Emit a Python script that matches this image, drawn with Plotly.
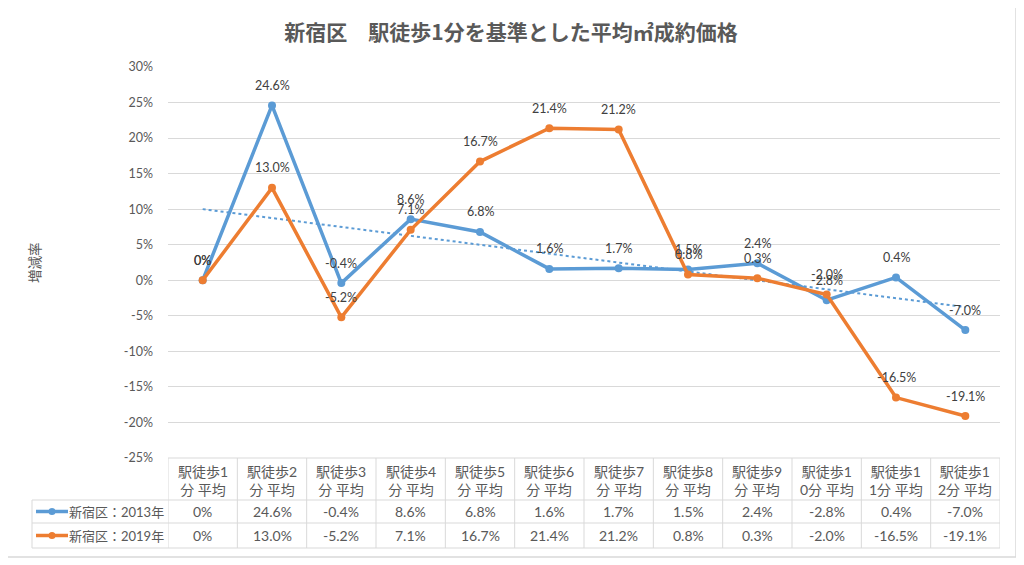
import numpy as np
import plotly.graph_objects as go

# ---------------- data ----------------
categories = ["駅徒歩1<br>分 平均", "駅徒歩2<br>分 平均", "駅徒歩3<br>分 平均", "駅徒歩4<br>分 平均",
              "駅徒歩5<br>分 平均", "駅徒歩6<br>分 平均", "駅徒歩7<br>分 平均", "駅徒歩8<br>分 平均",
              "駅徒歩9<br>分 平均", "駅徒歩1<br>0分 平均", "駅徒歩1<br>1分 平均", "駅徒歩1<br>2分 平均"]
series_names = ["新宿区：2013年", "新宿区：2019年"]
values_2013 = [0, 24.6, -0.4, 8.6, 6.8, 1.6, 1.7, 1.5, 2.4, -2.8, 0.4, -7.0]
values_2019 = [0, 13.0, -5.2, 7.1, 16.7, 21.4, 21.2, 0.8, 0.3, -2.0, -16.5, -19.1]
y_ticks = [-25, -20, -15, -10, -5, 0, 5, 10, 15, 20, 25, 30]
title_text = "新宿区　駅徒歩1分を基準とした平均㎡成約価格"
y_title = "増減率"

colors = ["#5B9BD5", "#ED7D31"]
OFF = 8  # page body margin
W, H = 1024 - OFF, 565 - OFF
L, T = 168 - OFF, 67 - OFF
R = W - (1000 - OFF)
B = H - (458 - OFF)
PW, PH = W - L - R, H - T - B
FONT = "Lato, 'Noto Sans CJK JP', sans-serif"
TXT = "#595959"
GRID = "#d9d9d9"


def px(x):
    return (x - OFF - L) / PW


def py(y):
    return (H - B - (y - OFF)) / PH


def fmt(v):
    return "0%" if v == 0 else f"{v:.1f}%"


xs = list(range(len(categories)))
fig = go.Figure()

shapes = []
annotations = []

# trendline of 2013 series (linear fit)
coef = np.polyfit(np.arange(1, len(values_2013) + 1), values_2013, 1)
trend = np.polyval(coef, np.arange(1, len(values_2013) + 1))
fig.add_trace(go.Scatter(x=xs, y=trend, mode="lines",
                         line=dict(color=colors[0], width=2, dash="dot"),
                         hoverinfo="skip", showlegend=False))

for vals, name, col in [(values_2013, series_names[0], colors[0]),
                        (values_2019, series_names[1], colors[1])]:
    fig.add_trace(go.Scatter(
        x=xs, y=vals, mode="lines+markers", name=name,
        line=dict(color=col, width=3.5),
        marker=dict(color=col, size=8),
        showlegend=False, cliponaxis=False))
    for i, v in enumerate(vals):
        annotations.append(dict(x=i, y=v, xref="x", yref="y", text=fmt(v),
                                showarrow=False, xanchor="center", yanchor="middle",
                                yshift=20,
                                font=dict(family=FONT, size=12.5, color="#404040")))

# outer chart border
shapes.append(dict(type="rect", xref="paper", yref="paper",
                   x0=px(5), x1=px(1016), y0=py(5), y1=py(557),
                   line=dict(color=GRID, width=1.5), layer="below"))

# data table
row_tops = [458, 500, 523, 548]
shapes.append(dict(type="line", xref="paper", yref="paper", x0=0, x1=1,
                   y0=py(458), y1=py(458), line=dict(color=GRID, width=1)))
for yy in row_tops[1:]:
    shapes.append(dict(type="line", xref="paper", yref="paper", x0=px(32), x1=1,
                       y0=py(yy), y1=py(yy), line=dict(color=GRID, width=1)))
for i in range(len(categories) + 1):
    shapes.append(dict(type="line", xref="x", yref="paper", x0=i - 0.5, x1=i - 0.5,
                       y0=py(458), y1=py(548), line=dict(color=GRID, width=1)))
shapes.append(dict(type="line", xref="paper", yref="paper", x0=px(32), x1=px(32),
                   y0=py(500), y1=py(548), line=dict(color=GRID, width=1)))

# header: category labels
for i, c in enumerate(categories):
    annotations.append(dict(x=i, y=py(480), xref="x", yref="paper", text=c,
                            showarrow=False, align="center", xanchor="center",
                            yanchor="middle",
                            font=dict(family=FONT, size=14, color=TXT)))
# values rows + legend keys
for r, vals in enumerate([values_2013, values_2019]):
    yc = (row_tops[r + 1] + row_tops[r + 2]) / 2
    for i, v in enumerate(vals):
        annotations.append(dict(x=i, y=py(yc), xref="x", yref="paper", text=fmt(v),
                                showarrow=False, xanchor="center", yanchor="middle",
                                font=dict(family=FONT, size=14, color=TXT)))
    shapes.append(dict(type="line", xref="paper", yref="paper", x0=px(36), x1=px(68),
                       y0=py(yc), y1=py(yc), line=dict(color=colors[r], width=3.5)))
    shapes.append(dict(type="circle", xref="paper", yref="paper",
                       x0=px(48.5), x1=px(55.5), y0=py(yc + 3.5), y1=py(yc - 3.5),
                       fillcolor=colors[r], line=dict(color=colors[r], width=0)))
    annotations.append(dict(x=px(166), y=py(yc), xref="paper", yref="paper",
                            text=series_names[r], showarrow=False, xanchor="right",
                            yanchor="middle",
                            font=dict(family=FONT, size=13, color=TXT)))

# y-axis title
annotations.append(dict(x=px(35), y=py(263), xref="paper", yref="paper", text=y_title,
                        showarrow=False, textangle=-90, xanchor="center", yanchor="middle",
                        font=dict(family=FONT, size=13.5, color=TXT)))

fig.update_layout(
    width=W, height=H,
    margin=dict(l=L, r=R, t=T, b=B),
    paper_bgcolor="white", plot_bgcolor="white",
    title=dict(text=f"<b>{title_text}</b>", x=(511 - OFF) / W, xref="container",
               xanchor="center", y=1 - (33 - OFF) / H, yref="container", yanchor="middle",
               font=dict(family="'Noto Sans CJK JP', sans-serif", size=21, color=TXT)),
    xaxis=dict(range=[-0.5, len(categories) - 0.5], showgrid=False, showticklabels=False,
               zeroline=False, showline=False, fixedrange=True),
    yaxis=dict(range=[-25, 30], tickvals=y_ticks, ticktext=[f"{t}%" for t in y_ticks],
               showgrid=True, gridcolor=GRID, gridwidth=1, zeroline=True,
               zerolinecolor=GRID, zerolinewidth=1, showline=False, ticks="",
               ticklabelstandoff=14,
               tickfont=dict(family=FONT, size=12.5, color=TXT)),
    shapes=shapes, annotations=annotations, showlegend=False,
)

fig.write_html("out.html")
